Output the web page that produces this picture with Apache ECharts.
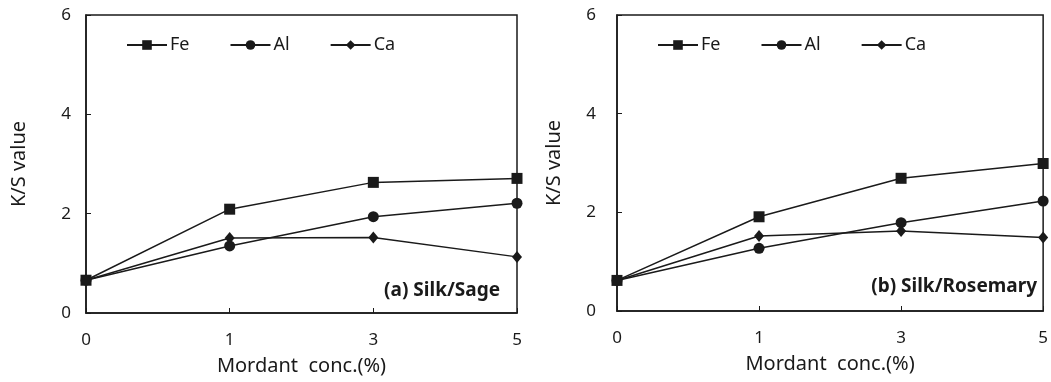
<!DOCTYPE html>
<html>
<head>
<meta charset="utf-8">
<script src="https://cdn.jsdelivr.net/npm/echarts@6/dist/echarts.min.js"></script>
<style>html,body{margin:0;padding:0;background:#fff}#c{width:1051px;height:382px}</style>
</head>
<body>
<div id="c"></div>
<script>
var categories = ['0', '1', '3', '5'];
var yTicks = { min: 0, max: 6, interval: 2 };
var sageFe = [0.66, 2.09, 2.63, 2.71];
var sageAl = [0.66, 1.35, 1.94, 2.21];
var sageCa = [0.66, 1.51, 1.52, 1.13];
var roseFe = [0.62, 1.91, 2.69, 2.99];
var roseAl = [0.62, 1.27, 1.79, 2.23];
var roseCa = [0.62, 1.52, 1.62, 1.49];
var seriesNames = ['Fe', 'Al', 'Ca'];
var panelLabels = ['(a) Silk/Sage', '(b) Silk/Rosemary'];

var FONT = '"Noto Sans", "Open Sans", sans-serif';
var INK = '#1a1a1a';
var symbols = { Fe: ['rect', 11], Al: ['circle', 11], Ca: ['diamond', [10, 12]] };

function xAxis(idx) {
  return {
    type: 'category', gridIndex: idx, data: categories, boundaryGap: false,
    name: 'Mordant  conc.(%)', nameLocation: 'middle', nameGap: 43,
    nameTextStyle: { fontFamily: FONT, fontSize: 20, color: INK },
    axisLine: { lineStyle: { color: INK, width: 1.5 } },
    axisTick: { inside: true, length: 5, lineStyle: { color: INK } },
    axisLabel: { margin: 19, fontFamily: FONT, fontSize: 17, color: INK, showMaxLabel: true },
    splitLine: { show: false }
  };
}
function yAxis(idx, gap, margin) {
  return {
    type: 'value', gridIndex: idx, min: yTicks.min, max: yTicks.max, interval: yTicks.interval,
    name: 'K/S value', nameLocation: 'middle', nameGap: gap,
    nameTextStyle: { fontFamily: FONT, fontSize: 20, color: INK },
    axisLine: { show: true, lineStyle: { color: INK, width: 1.5 } },
    axisTick: { show: true, inside: true, length: 5, lineStyle: { color: INK } },
    axisLabel: { margin: margin, fontFamily: FONT, fontSize: 17, color: INK },
    splitLine: { show: false }
  };
}
function series(name, data, idx) {
  return {
    name: name, type: 'line', xAxisIndex: idx, yAxisIndex: idx, data: data,
    symbol: symbols[name][0], symbolSize: symbols[name][1],
    lineStyle: { color: INK, width: 1.5 }, itemStyle: { color: INK },
    emphasis: { disabled: true }, animation: false
  };
}
function legend(left) {
  return {
    data: seriesNames, left: left, top: 31, itemWidth: 40, itemHeight: 12, itemGap: 40,
    textStyle: { fontFamily: FONT, fontSize: 18, color: INK, padding: [0, 0, 0, -2] },
    selectedMode: false
  };
}

var chart = echarts.init(document.getElementById('c'), null, { renderer: 'canvas' });
chart.setOption({
  backgroundColor: '#fff',
  animation: false,
  grid: [
    { left: 86, right: 534, top: 15, bottom: 69, show: true, borderColor: INK, borderWidth: 1.5 },
    { left: 617, right: 4, top: 15, bottom: 71, show: true, borderColor: INK, borderWidth: 1.5 }
  ],
  legend: [legend(121), legend(652)],
  xAxis: [xAxis(0), xAxis(1)],
  yAxis: [yAxis(0, 57, 15), yAxis(1, 53, 21)],
  series: [
    series('Fe', sageFe, 0), series('Al', sageAl, 0), series('Ca', sageCa, 0),
    series('Fe', roseFe, 1), series('Al', roseAl, 1), series('Ca', roseCa, 1)
  ],
  graphic: [
    { type: 'text', right: 1051 - 500, top: 281, style: { text: panelLabels[0], font: 'bold 19px ' + FONT, fill: INK } },
    { type: 'text', right: 1051 - 1037, top: 277, style: { text: panelLabels[1], font: 'bold 19px ' + FONT, fill: INK } }
  ]
});
</script>
</body>
</html>
